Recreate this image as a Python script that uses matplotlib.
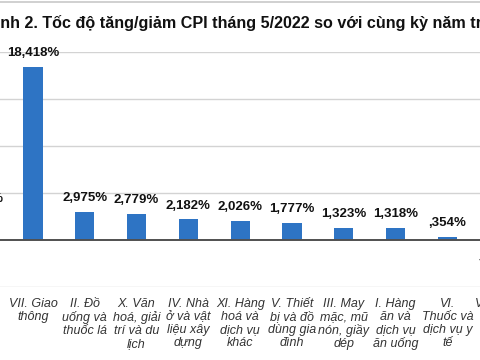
import numpy as np
import matplotlib.pyplot as plt

# categories (first and last are cut off by the crop)
categories = ["Chỉ số\nchung", "VII. Giao\nthông", "II. Đồ\nuống và\nthuốc lá",
              "X. Văn\nhoá, giải\ntrí và du\nlịch", "IV. Nhà\nở và vật\nliệu xây\ndựng",
              "XI. Hàng\nhoá và\ndịch vụ\nkhác", "V. Thiết\nbị và đồ\ndùng gia\nđình",
              "III. May\nmặc, mũ\nnón, giầy\ndép", "I. Hàng\năn và\ndịch vụ\năn uống",
              "VI.\nThuốc và\ndịch vụ y\ntế", "VIII. Bưu\nchính\nviễn\nthông"]
values = [2.864, 18.418, 2.975, 2.779, 2.182, 2.026, 1.777, 1.323, 1.318, 0.354, -0.625]
value_labels = ["2,864%", "18,418%", "2,975%", "2,779%", "2,182%", "2,026%", "1,777%",
                "1,323%", "1,318%", ",354%", "-,625%"]
gridlines = [-5, 0, 5, 10, 15, 20]

title = "Hình 2. Tốc độ tăng/giảm CPI tháng 5/2022 so với cùng kỳ năm trước (%)"

plt.rcParams['font.family'] = ['Liberation Sans', 'DejaVu Sans']

# the chart is cropped: the axes run past both sides of the figure
px_left, px_right = -50, 530
fig = plt.figure(figsize=(4.8, 3.6), dpi=100)
ax = fig.add_axes([px_left / 480, 1 - 287 / 360, (px_right - px_left) / 480, (287 - 52) / 360])

x = np.arange(len(values))
ax.bar(x, values, width=0.37, color='#2E74C4', zorder=3)

for g in gridlines:
    if g == 0:
        ax.axhline(g, color='#505050', lw=1.4, zorder=4)
    else:
        ax.axhline(g, color='#d3d3d3', lw=1.0, zorder=1)

for xi, v, lab in zip(x, values, value_labels):
    off = 10 if v >= 0 else -10
    ax.annotate(lab, (xi, v), xytext=(0, off), textcoords='offset points',
                ha='center', va='center', fontsize=9.5, fontweight='bold', color='#111111')

ax.set_xticks(x)
ax.set_xticklabels(categories, fontsize=9, style='italic', color='#333333', linespacing=1.12)
spacing = 51.8
ax.set_xlim((px_left - 33) / spacing + 1, (px_right - 33) / spacing + 1)
ax.set_ylim(-5, 20)
ax.tick_params(axis='x', length=0, pad=8)
ax.set_yticks([])
for s in ax.spines.values():
    s.set_visible(False)

fig.text(-16.5 / 480, 1 - 23 / 360, title, fontsize=11.6, fontweight='bold',
         ha='left', va='center', color='#111111')
fig.add_artist(plt.Line2D([0, 1], [1 - 1.5 / 360] * 2, color='#c8c8c8', lw=1.2))

fig.savefig('out.png', dpi=100)
